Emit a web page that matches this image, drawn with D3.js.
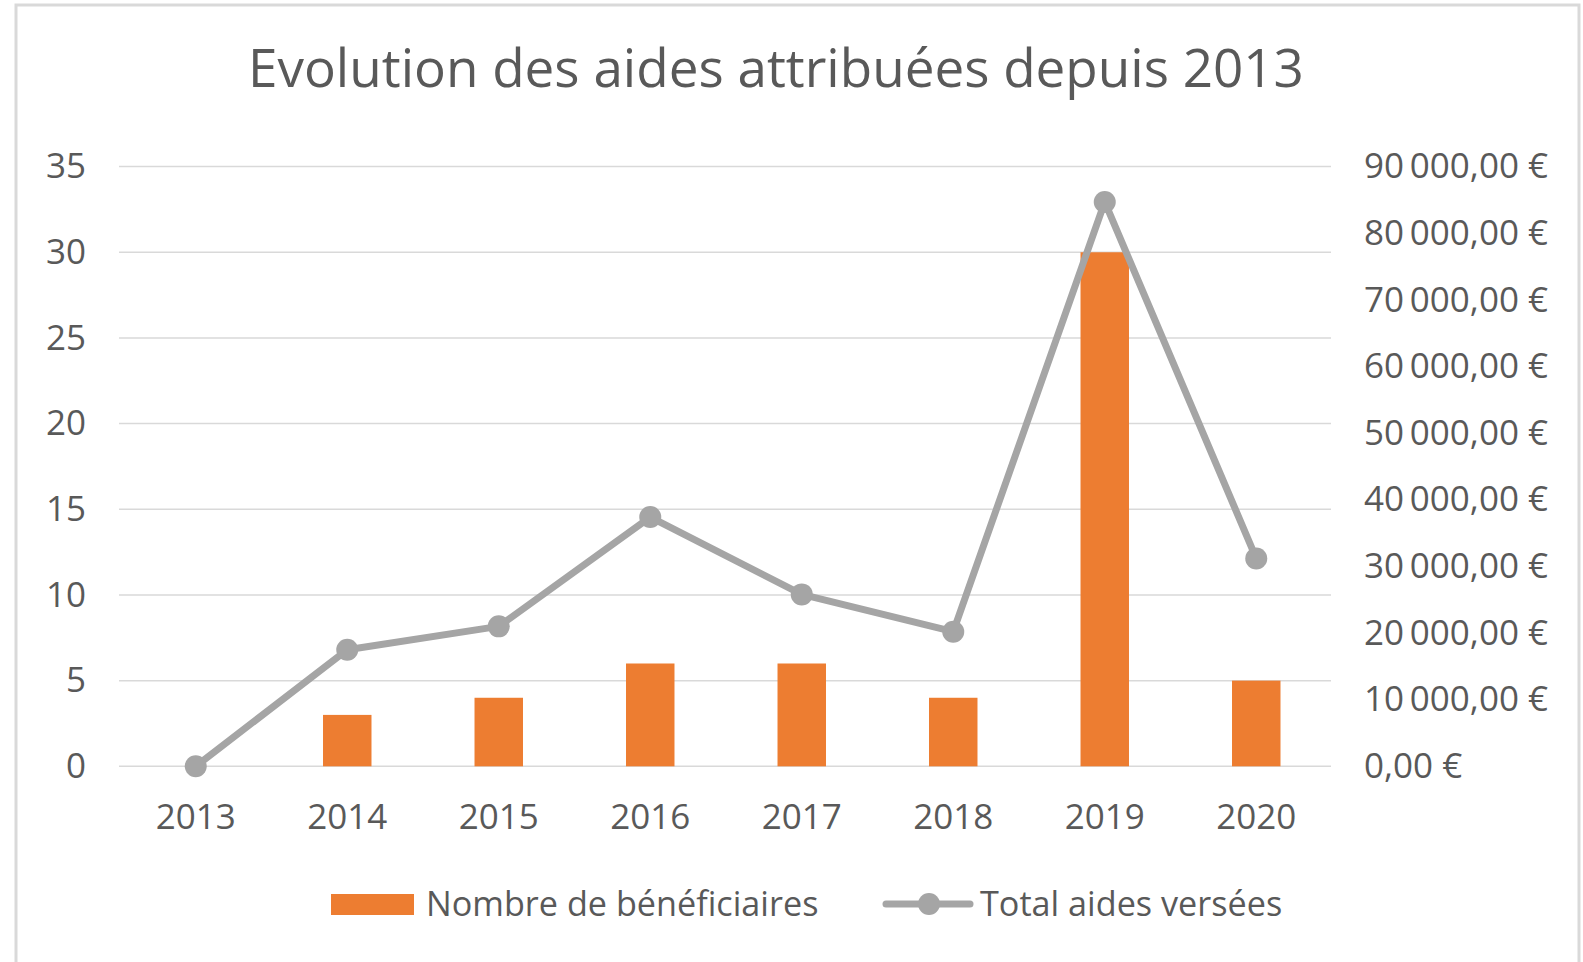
<!DOCTYPE html>
<html>
<head>
<meta charset="utf-8">
<script src="https://cdn.jsdelivr.net/npm/d3@7"></script>
<style>
  body { margin: 0; background: #fff; }
  text { font-family: "Open Sans", sans-serif; fill: #595959; }
</style>
</head>
<body>
<script>
// donnees
var annees = ["2013", "2014", "2015", "2016", "2017", "2018", "2019", "2020"];
var beneficiaires = [0, 3, 4, 6, 6, 4, 30, 5];
var totalAides = [0, 17500, 21000, 37400, 25800, 20200, 84700, 31200];
var ticksGauche = [0, 5, 10, 15, 20, 25, 30, 35];
var ticksDroite = [0, 10000, 20000, 30000, 40000, 50000, 60000, 70000, 80000, 90000];

const W = 1583, H = 962;
const gauche = 120, droite = 1332, haut = 166.6, bas = 766.3;

var svg = d3.select("body").append("svg")
  .attr("width", W)
  .attr("height", H);

// cadre du graphique
svg.append("rect")
  .attr("x", 16).attr("y", 5)
  .attr("width", 1563).attr("height", 980)
  .attr("fill", "#fff")
  .attr("stroke", "#d9d9d9")
  .attr("stroke-width", 3);

svg.append("text")
  .attr("x", 776).attr("y", 87)
  .attr("text-anchor", "middle")
  .attr("font-size", 53)
  .text("Evolution des aides attribuées depuis 2013");

var x = d3.scaleBand()
  .domain(annees)
  .range([gauche, droite]);

var yG = d3.scaleLinear()
  .domain([0, 35])
  .range([bas, haut]);

var yD = d3.scaleLinear()
  .domain([0, 90000])
  .range([bas, haut]);

// lignes de grille
svg.append("g")
  .selectAll("line")
  .data(ticksGauche)
  .join("line")
  .attr("x1", gauche - 1).attr("x2", droite - 1)
  .attr("y1", d => yG(d)).attr("y2", d => yG(d))
  .attr("stroke", "#d9d9d9")
  .attr("stroke-width", 1.5);

var axeG = svg.append("g")
  .attr("transform", "translate(" + 86 + ",0)")
  .call(d3.axisLeft(yG).tickValues(ticksGauche).tickSize(0).tickPadding(0));
axeG.select(".domain").remove();
axeG.selectAll("text").attr("font-size", 35).attr("font-family", null).attr("fill", null);

var fr = d3.formatLocale({ decimal: ",", thousands: "\u2009", grouping: [3], currency: ["", " €"] });
var formatEuro = fr.format(",.2f");

var axeD = svg.append("g")
  .attr("transform", "translate(" + 1364 + ",0)")
  .call(d3.axisRight(yD).tickValues(ticksDroite).tickSize(0).tickPadding(0)
    .tickFormat(d => formatEuro(d) + " €"));
axeD.select(".domain").remove();
axeD.selectAll("text").attr("font-size", 35).attr("font-family", null).attr("fill", null);

var axeX = svg.append("g")
  .attr("transform", "translate(0," + 804 + ")")
  .call(d3.axisBottom(x).tickSize(0).tickPadding(0));
axeX.select(".domain").remove();
axeX.selectAll("text").attr("font-size", 35).attr("font-family", null).attr("fill", null);

// barres
var largeurBarre = x.bandwidth() * 0.32;
svg.append("g")
  .selectAll("rect")
  .data(beneficiaires)
  .join("rect")
  .attr("x", (d, i) => x(annees[i]) + x.bandwidth() / 2 - largeurBarre / 2)
  .attr("y", d => yG(d))
  .attr("width", largeurBarre)
  .attr("height", d => bas - yG(d))
  .attr("fill", "#ed7d31");

// ligne
var ligne = d3.line()
  .x((d, i) => x(annees[i]) + x.bandwidth() / 2)
  .y(d => yD(d));

svg.append("path")
  .datum(totalAides)
  .attr("d", ligne)
  .attr("fill", "none")
  .attr("stroke", "#a5a5a5")
  .attr("stroke-width", 7)
  .attr("stroke-linejoin", "round");

svg.append("g")
  .selectAll("circle")
  .data(totalAides)
  .join("circle")
  .attr("cx", (d, i) => x(annees[i]) + x.bandwidth() / 2)
  .attr("cy", d => yD(d))
  .attr("r", 11)
  .attr("fill", "#a5a5a5");

// legende
var leg = svg.append("g");
leg.append("rect")
  .attr("x", 331).attr("y", 894)
  .attr("width", 83).attr("height", 21)
  .attr("fill", "#ed7d31");
leg.append("text")
  .attr("x", 426).attr("y", 904)
  .attr("dy", "0.35em")
  .attr("font-size", 34.2)
  .text("Nombre de bénéficiaires");
leg.append("line")
  .attr("x1", 886).attr("x2", 970)
  .attr("y1", 904).attr("y2", 904)
  .attr("stroke", "#a5a5a5")
  .attr("stroke-width", 7)
  .attr("stroke-linecap", "round");
leg.append("circle")
  .attr("cx", 929).attr("cy", 904)
  .attr("r", 11)
  .attr("fill", "#a5a5a5");
leg.append("text")
  .attr("x", 980).attr("y", 904)
  .attr("dy", "0.35em")
  .attr("font-size", 34.2)
  .text("Total aides versées");
</script>
</body>
</html>
